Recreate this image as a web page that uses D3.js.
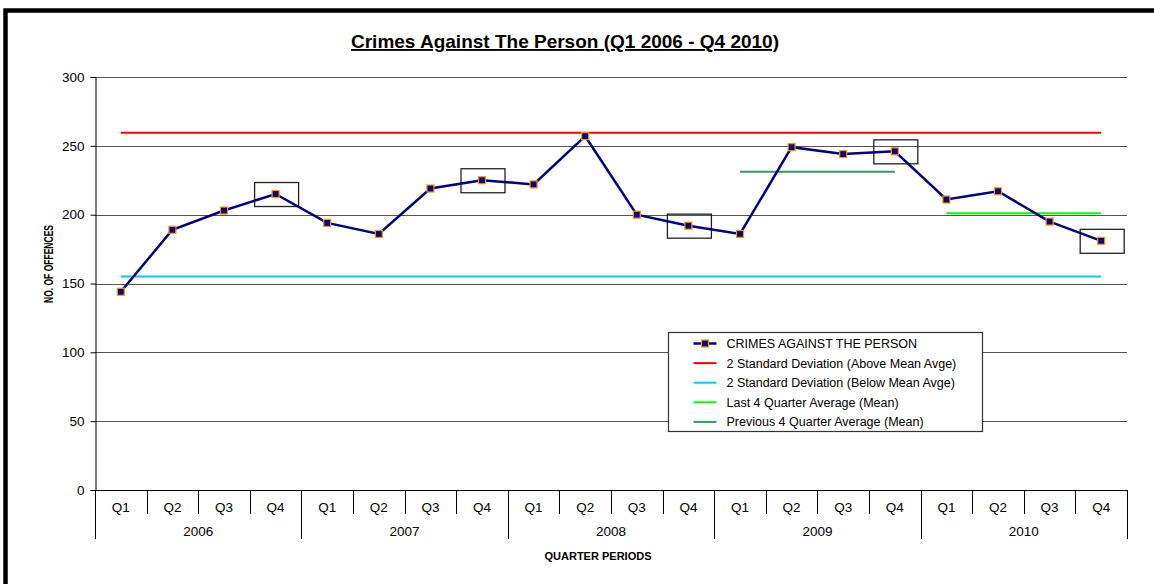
<!DOCTYPE html>
<html>
<head>
<meta charset="utf-8">
<script src="https://cdn.jsdelivr.net/npm/d3@7"></script>
<style>
  body { margin: 0; background: #fff; }
  svg { display: block; font-family: "Liberation Sans", Arial, sans-serif; }
</style>
</head>
<body>
<svg id="chart" width="1154" height="584"></svg>
<script>
// data
const years = ['2006', '2007', '2008', '2009', '2010'];
const quarters = ['Q1', 'Q2', 'Q3', 'Q4'];
const offences = [144, 189, 203, 215, 194, 186, 219, 225, 222, 257,
                  200, 192, 186, 249, 244, 246, 211, 217, 195, 181];
const upperLimit = 259.5;
const lowerLimit = 155;
const last4Mean = 201;
const prev4Mean = 231.25;
const yTicks = [0, 50, 100, 150, 200, 250, 300];

const periods = [];
years.forEach(y => quarters.forEach(q => periods.push(y + ' ' + q)));

const svg = d3.select('#chart');

const margin = {top: 77, left: 95};
const plotW = 1127 - margin.left;
const plotH = 490 - margin.top;

// frame (cropped border, only top and left show)
svg.append('rect')
    .attr('x', 5.5).attr('y', 10.5)
    .attr('width', 1300).attr('height', 800)
    .attr('fill', 'none')
    .attr('stroke', '#000')
    .attr('stroke-width', 4.5);

svg.append('text')
    .attr('x', 565).attr('y', 48)
    .attr('text-anchor', 'middle')
    .attr('font-size', 19)
    .attr('font-weight', 'bold')
    .attr('text-decoration', 'underline')
    .text('Crimes Against The Person (Q1 2006 - Q4 2010)');

const g = svg.append('g')
    .attr('transform', `translate(${margin.left},${margin.top})`);

const x = d3.scaleBand().domain(periods).range([0, plotW]);
const xc = d => x(d) + x.bandwidth() / 2;
const y = d3.scaleLinear().domain([0, 300]).range([plotH, 0]);

// gridlines
g.append('g')
    .selectAll('line')
    .data(yTicks.filter(d => d > 0))
    .join('line')
    .attr('x1', 0).attr('x2', plotW)
    .attr('y1', d => Math.round(y(d)) + 0.5)
    .attr('y2', d => Math.round(y(d)) + 0.5)
    .attr('stroke', '#555')
    .attr('stroke-width', 1);

// y axis
const yAxis = g.append('g')
    .attr('transform', 'translate(0.5,0)')
    .call(d3.axisLeft(y).tickValues(yTicks).tickSize(5).tickPadding(6));
yAxis.select('.domain').attr('stroke', '#000');
yAxis.selectAll('.tick line').attr('stroke', '#000');
yAxis.selectAll('text')
    .attr('font-size', 13.5)
    .attr('font-family', '"Liberation Sans", Arial, sans-serif')
    .attr('fill', '#000');

svg.append('text')
    .attr('transform', 'translate(53,264) rotate(-90)')
    .attr('text-anchor', 'middle')
    .attr('font-size', 12)
    .attr('font-weight', 'bold')
    .attr('textLength', 78)
    .attr('lengthAdjust', 'spacingAndGlyphs')
    .text('NO. OF OFFENCES');

// x axis: two-level categorical
const xAxis = g.append('g').attr('transform', `translate(0,${plotH})`);
xAxis.append('line')
    .attr('x1', 0).attr('x2', plotW)
    .attr('y1', 0.5).attr('y2', 0.5)
    .attr('stroke', '#000');
xAxis.selectAll('.qdiv')
    .data(periods.slice(1))
    .join('line')
    .attr('class', 'qdiv')
    .attr('x1', d => Math.round(x(d)) + 0.5)
    .attr('x2', d => Math.round(x(d)) + 0.5)
    .attr('y1', 0)
    .attr('y2', (d, i) => (i + 1) % 4 === 0 ? 49 : 24)
    .attr('stroke', '#000');
[0, plotW].forEach(px => {
    xAxis.append('line')
        .attr('x1', px + 0.5).attr('x2', px + 0.5)
        .attr('y1', 0).attr('y2', 49)
        .attr('stroke', '#000');
});
xAxis.selectAll('.qlab')
    .data(periods)
    .join('text')
    .attr('class', 'qlab')
    .attr('x', d => xc(d))
    .attr('y', 21.5)
    .attr('text-anchor', 'middle')
    .attr('font-size', 13.5)
    .text(d => d.split(' ')[1]);
xAxis.selectAll('.ylab')
    .data(years)
    .join('text')
    .attr('class', 'ylab')
    .attr('x', d => (x(d + ' Q1') + x(d + ' Q4') + x.bandwidth()) / 2)
    .attr('y', 46)
    .attr('text-anchor', 'middle')
    .attr('font-size', 13.5)
    .text(d => d);

svg.append('text')
    .attr('x', 598)
    .attr('y', 560)
    .attr('text-anchor', 'middle')
    .attr('font-size', 11)
    .attr('font-weight', 'bold')
    .text('QUARTER PERIODS');

// reference lines
const first = periods[0], last = periods[periods.length - 1];
const refLines = [
    {from: first, to: last, value: upperLimit, color: '#ff0000'},
    {from: first, to: last, value: lowerLimit, color: '#00ccff'},
    {from: '2010 Q1', to: '2010 Q4', value: last4Mean, color: '#00ff00'},
    {from: '2009 Q1', to: '2009 Q4', value: prev4Mean, color: '#339966'}
];
g.append('g')
    .selectAll('line')
    .data(refLines)
    .join('line')
    .attr('x1', d => xc(d.from))
    .attr('x2', d => xc(d.to))
    .attr('y1', d => y(d.value))
    .attr('y2', d => y(d.value))
    .attr('stroke', d => d.color)
    .attr('stroke-width', 2);

// highlight boxes around Q4 points
const q4 = periods.map((p, i) => ({p, v: offences[i]})).filter(d => d.p.endsWith('Q4'));
g.append('g')
    .selectAll('rect')
    .data(q4)
    .join('rect')
    .attr('x', d => xc(d.p) - 21)
    .attr('y', d => y(d.v) - 11.5)
    .attr('width', 44)
    .attr('height', 24)
    .attr('fill', 'none')
    .attr('stroke', '#222')
    .attr('stroke-width', 1.3);

// main series
const line = d3.line()
    .x((d, i) => xc(periods[i]))
    .y(d => y(d));
g.append('path')
    .datum(offences)
    .attr('d', line)
    .attr('fill', 'none')
    .attr('stroke', '#000080')
    .attr('stroke-width', 2.5);
g.append('g')
    .selectAll('rect')
    .data(offences)
    .join('rect')
    .attr('x', (d, i) => xc(periods[i]) - 3.5)
    .attr('y', d => y(d) - 3.5)
    .attr('width', 7).attr('height', 7)
    .attr('fill', '#000080')
    .attr('stroke', '#ff9900')
    .attr('stroke-width', 1.2);

// legend
const legend = svg.append('g').attr('transform', 'translate(668.5,332.5)');
legend.append('rect')
    .attr('width', 314).attr('height', 99)
    .attr('fill', '#fff')
    .attr('stroke', '#333')
    .attr('stroke-width', 1.2);
const legendItems = [
    {label: 'CRIMES AGAINST THE PERSON', color: '#000080', marker: true},
    {label: '2 Standard Deviation (Above Mean Avge)', color: '#ff0000'},
    {label: '2 Standard Deviation (Below Mean Avge)', color: '#00ccff'},
    {label: 'Last 4 Quarter Average (Mean)', color: '#00ff00'},
    {label: 'Previous 4 Quarter Average (Mean)', color: '#339966'}
];
const li = legend.selectAll('.li')
    .data(legendItems)
    .join('g')
    .attr('class', 'li')
    .attr('transform', (d, i) => `translate(0,${11 + i * 19.6})`);
li.append('line')
    .attr('x1', 25).attr('x2', 48)
    .attr('stroke', d => d.color)
    .attr('stroke-width', d => d.marker ? 2.5 : 2);
li.filter(d => d.marker).append('rect')
    .attr('x', 33).attr('y', -3.5)
    .attr('width', 7).attr('height', 7)
    .attr('fill', '#000080')
    .attr('stroke', '#ff9900')
    .attr('stroke-width', 1.2);
li.append('text')
    .attr('x', 58).attr('y', 4.5)
    .attr('font-size', 12.5)
    .text(d => d.label);
</script>
</body>
</html>
